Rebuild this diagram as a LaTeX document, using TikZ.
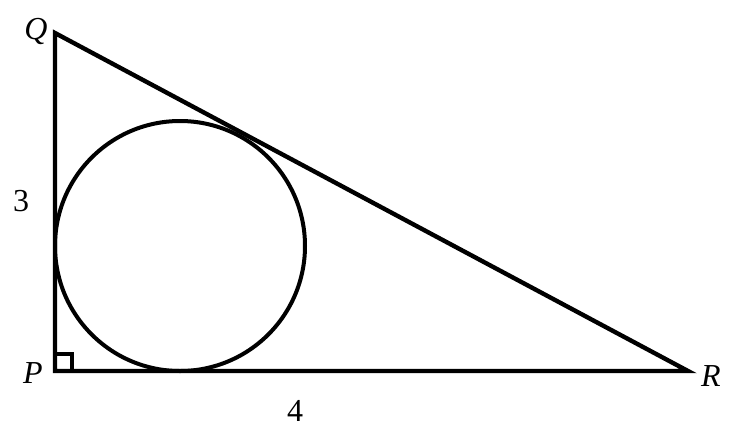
\documentclass[tikz,border=0pt]{standalone}
\usepackage{fontspec}
\setmainfont{Liberation Serif}
\begin{document}
\begin{tikzpicture}[x=0.5pt,y=-0.5pt,
    edge/.style={line width=2.2pt,line join=miter},
    lbl/.style={font=\fontsize{16}{18}\selectfont}]
    \useasboundingbox (0,0) rectangle (746,435);
    \coordinate (P) at (55,371);
    \coordinate (Q) at (55,33);
    \coordinate (R) at (688,371);
    \coordinate (O) at (180,246);
    \draw[edge] (Q) -- (P) -- (R) -- cycle;
    \draw[line width=2pt] (O) circle [radius=125];
    \draw[line width=1.6pt] (P) rectangle ++(17,-17);
    \node[lbl] (q) at (36,31) {\textit{Q}};
    \node[lbl] (p) at (33,373) {\textit{P}};
    \node[lbl] (r) at (711,376) {\textit{R}};
    \node[lbl] (three) at (21,201) {3};
    \node[lbl] (four) at (295,411) {4};
\end{tikzpicture}
\end{document}
